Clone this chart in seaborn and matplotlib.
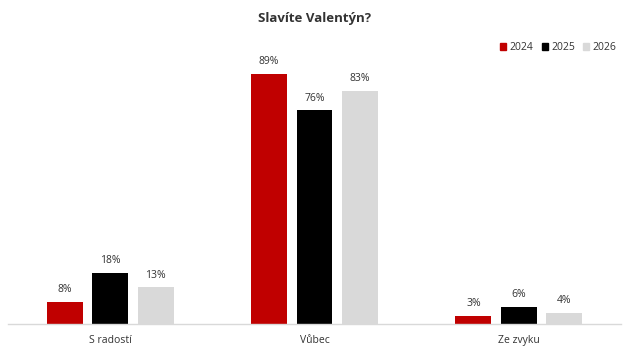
import matplotlib
matplotlib.use("Agg")
import matplotlib.pyplot as plt
import seaborn as sns
import pandas as pd

categories = ["S radostí", "Vůbec", "Ze zvyku"]
years = ["2024", "2025", "2026"]
v2024 = [8, 89, 3]
v2025 = [18, 76, 6]
v2026 = [13, 83, 4]
colors = ["#C00000", "#000000", "#D9D9D9"]

rows = []
for y, vals in zip(years, [v2024, v2025, v2026]):
    for c, v in zip(categories, vals):
        rows.append({"cat": c, "year": y, "val": v})
df = pd.DataFrame(rows)

sns.set_theme(style="white")
plt.rcParams['font.family'] = ['Open Sans', 'DejaVu Sans']

fig = plt.figure(figsize=(6.29, 3.54), dpi=100)
ax = fig.add_axes([0.0127, 0.0847, 0.9746, 0.7938])
sns.barplot(data=df, x="cat", y="val", hue="year", palette=colors, saturation=1,
            width=0.668, gap=0.21, linewidth=0, ax=ax, legend=False)
ax.set_ylim(0, 100)
ax.set_xlim(-0.5, 2.5)
for cont in ax.containers:
    ax.bar_label(cont, labels=[f"{int(v)}%" for v in cont.datavalues],
                 padding=5, fontsize=7.5, color="#333333")
ax.set_xlabel("")
ax.set_ylabel("")
ax.set_yticks([])
ax.tick_params(axis="x", length=0, labelsize=7.5, colors="#333333", pad=8)
for s in ["top", "right", "left"]:
    ax.spines[s].set_visible(False)
ax.spines["bottom"].set_color("#D9D9D9")
ax.spines["bottom"].set_linewidth(1)

from matplotlib.patches import Patch
handles = [Patch(facecolor=c, edgecolor=c) for c in colors]
fig.legend(handles, years, loc="center right", bbox_to_anchor=(0.995, 0.866),
           ncol=3, frameon=False, fontsize=7.5, handlelength=0.6, handleheight=0.6,
           handletextpad=0.3, columnspacing=0.8, labelcolor="#333333")
fig.suptitle("Slavíte Valentýn?", x=0.5, y=0.965, fontsize=9.5, fontweight="bold",
             color="#333333")
fig.savefig("out.png", dpi=100, facecolor="white")
